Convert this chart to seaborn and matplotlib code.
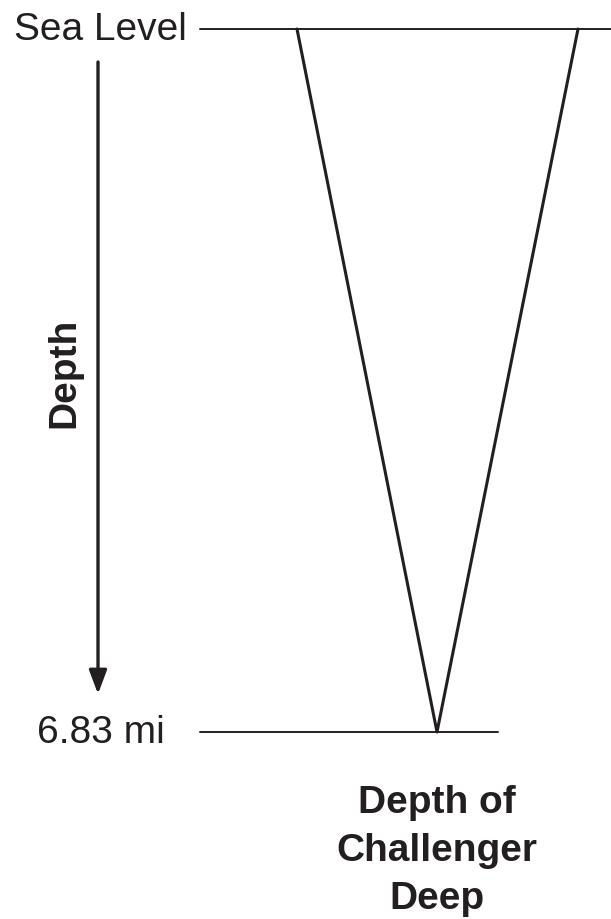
import matplotlib
matplotlib.use("Agg")
import matplotlib.pyplot as plt
import seaborn as sns
import pandas as pd

# Values
depth_levels = [0.0, 6.83]          # miles
level_labels = ["Sea Level", "6.83 mi"]
axis_label = "Depth"
bar_label_lines = ["Depth of", "Challenger", "Deep"]

# Triangle outline (x across the diagram, y = depth in miles)
tri_x = [297, 437, 578]
tri_y = [depth_levels[0], depth_levels[1], depth_levels[0]]

ink = "#231f20"

sns.set_theme(style="white")
plt.rcParams["font.family"] = ["Liberation Sans", "DejaVu Sans"]

fig = plt.figure(figsize=(6.11, 9.2), dpi=100)
ax = fig.add_axes([0, 0, 1, 1])

px_per_mi = (733 - 30) / (depth_levels[1] - depth_levels[0])
ax.set_xlim(0, 611)
ax.set_ylim(depth_levels[0] + (920 - 30) / px_per_mi, depth_levels[0] - 30 / px_per_mi)
ax.axis("off")


def py(pixel_y):
    # pixel row -> depth in miles
    return depth_levels[0] + (pixel_y - 30) / px_per_mi


# Horizontal reference lines
ax.plot([200, 611], [depth_levels[0]] * 2, color=ink, lw=1.4)
ax.plot([200, 498], [depth_levels[1]] * 2, color=ink, lw=1.4)

# Triangle
df = pd.DataFrame({"x": tri_x, "y": tri_y})
sns.lineplot(data=df, x="x", y="y", sort=False, color=ink, lw=2.2, ax=ax)

# Labels at the levels
ax.text(187, depth_levels[0], level_labels[0], ha="right", va="center",
        fontsize=28, color=ink)
ax.text(165, depth_levels[1], level_labels[1], ha="right", va="center",
        fontsize=28, color=ink)

# Down arrow
ax.annotate("", xy=(98, py(695)), xytext=(98, py(63)),
            arrowprops=dict(arrowstyle="-|>,head_length=1.2,head_width=0.45",
                            color=ink, lw=2.4, shrinkA=0, shrinkB=0))

ax.text(64, py(373), axis_label, rotation=90,
        ha="center", va="center", fontsize=28, fontweight="bold", color=ink)

# Caption under the triangle, one line at a time
for i, line in enumerate(bar_label_lines):
    ax.text(437, py(813 + 48 * i), line, ha="center", va="baseline",
            fontsize=28, fontweight="bold", color=ink)

fig.savefig("out.png", dpi=100)
